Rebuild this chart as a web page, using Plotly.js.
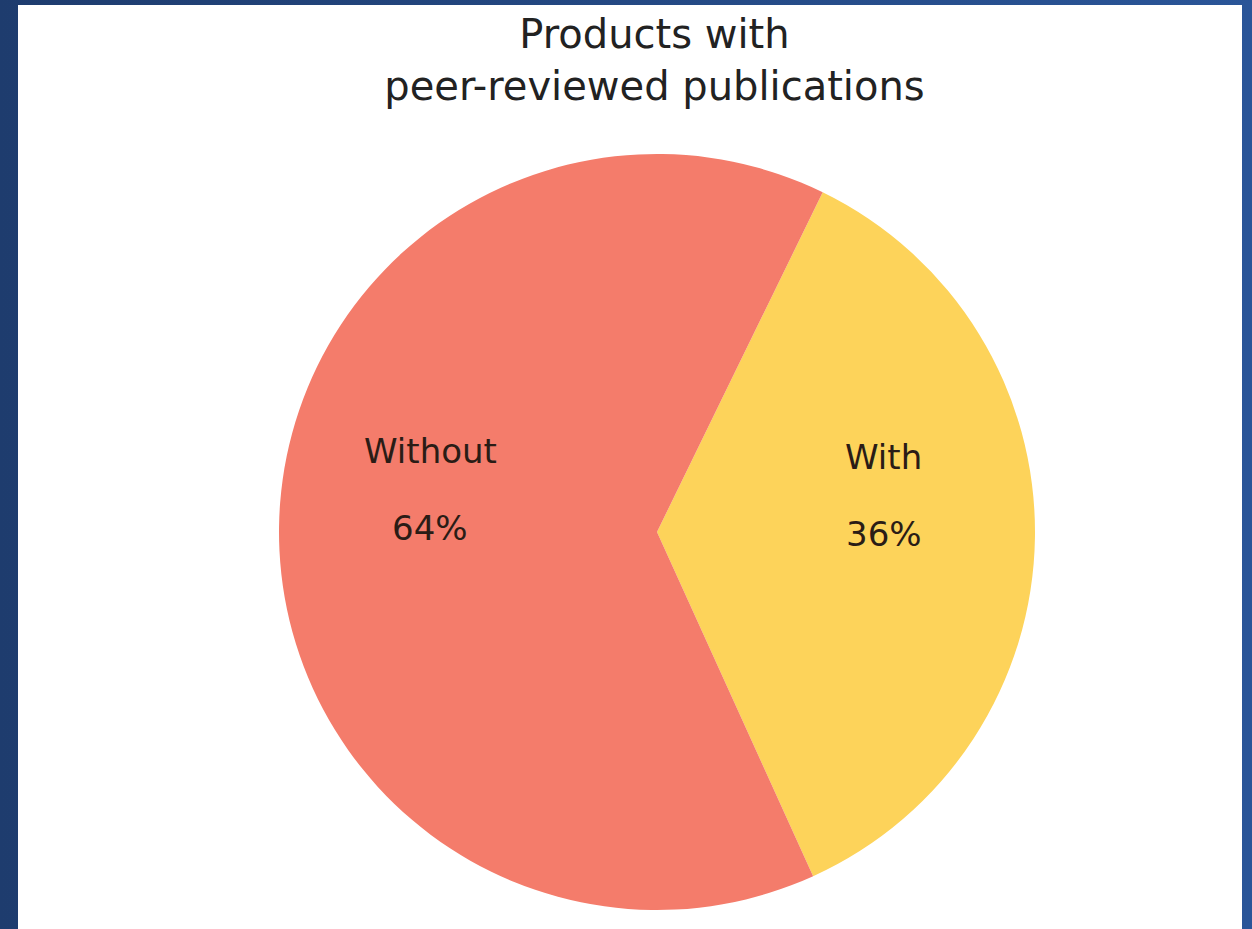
<!DOCTYPE html>
<html>
<head>
<meta charset="utf-8">
<script src="https://cdn.plot.ly/plotly-3.0.1.min.js"></script>
<style>
  html, body { margin: 0; padding: 0; width: 1252px; height: 929px; overflow: hidden;
    background: linear-gradient(to right, #1e3c6e, #2a5598); }
  #chart { position: absolute; left: 18px; top: 5px; width: 1224px; height: 924px; background: #ffffff; }
</style>
</head>
<body>
<div id="chart"></div>
<script>
// Data
const categories = ["With", "Without"];
const shares = [36, 64];
const sliceColors = ["#fdd35a", "#f47c6b"];
const chartTitle = "Products with<br>peer-reviewed publications";

const W = 1224, H = 924;
const cx = 639, cy = 527, R = 378;
const rotationDeg = 26;

const trace = {
  type: "pie",
  labels: categories,
  values: shares,
  sort: false,
  direction: "clockwise",
  rotation: rotationDeg,
  marker: { colors: sliceColors, line: { width: 0 } },
  textinfo: "none",
  hoverinfo: "none",
  showlegend: false,
  domain: {
    x: [(cx - R) / W, (cx + R) / W],
    y: [(H - cy - R) / H, (H - cy + R) / H]
  }
};

// Label annotations placed along each slice's mid-angle (derived from the data)
const total = shares.reduce((a, b) => a + b, 0);
const pcx = cx / W, pcy = (H - cy) / H;
const labelFont = { family: "DejaVu Sans", size: 34, color: "#2a1c16" };
const annotations = [];
let cum = 0;
shares.forEach((v, i) => {
  const mid = (rotationDeg + (cum + v / 2) / total * 360) * Math.PI / 180;
  cum += v;
  const r = 0.6 * R;
  const ax = pcx + r * Math.sin(mid) / W;
  const ay = pcy + r * Math.cos(mid) / H;
  annotations.push({
    xref: "paper", yref: "paper", x: ax, y: ay, xanchor: "center", yanchor: "middle",
    text: categories[i], showarrow: false, font: labelFont, yshift: 78
  });
  annotations.push({
    xref: "paper", yref: "paper", x: ax, y: ay, xanchor: "center", yanchor: "middle",
    text: Math.round(v / total * 100) + "%", showarrow: false, font: labelFont, yshift: 1
  });
});

const layout = {
  width: W,
  height: H,
  margin: { l: 0, r: 0, t: 0, b: 0 },
  paper_bgcolor: "#ffffff",
  showlegend: false,
  annotations: annotations,
  title: {
    text: chartTitle,
    font: { family: "DejaVu Sans", size: 40, color: "#222222" },
    x: 0.52, xanchor: "center", xref: "paper",
    y: 0.954, yanchor: "top", yref: "container"
  }
};

Plotly.newPlot("chart", [trace], layout, { displayModeBar: false, staticPlot: true });
</script>
</body>
</html>
